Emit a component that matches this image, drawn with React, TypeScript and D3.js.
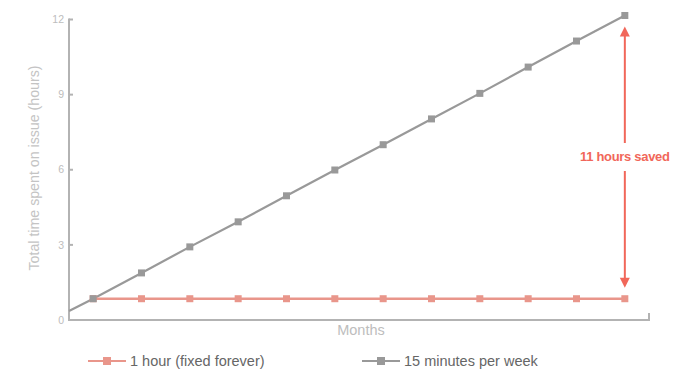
import React from "react";
import * as d3 from "d3";

// Months along the x axis
const months = [1, 2, 3, 4, 5, 6, 7, 8, 9, 10, 11, 12];
// Cumulative hours: one-off fix vs. recurring 15 minutes per week
const fixedHours = [0.85, 0.85, 0.85, 0.85, 0.85, 0.85, 0.85, 0.85, 0.85, 0.85, 0.85, 0.85];
const weeklyHours = [0.85, 1.88, 2.92, 3.92, 4.96, 5.99, 7.0, 8.03, 9.05, 10.1, 11.14, 12.16];
// Value of the weekly line where it meets the y axis
const weeklyStart = 0.36;
const yTicks = [0, 3, 6, 9, 12];
const seriesNames = ["1 hour (fixed forever)", "15 minutes per week"];
const savedLabel = "11 hours saved";

const W = 690;
const H = 380;
const FONT = "'Liberation Sans', Arial, sans-serif";
const AXIS = "#b3b3b3";
const RED = "#e9968b";
const GRAY = "#999999";
const ACCENT = "#f1675a";

export default function App() {
  const x = d3.scalePoint<number>().domain(months).range([69, 649]).padding(0.5);
  const y = d3.scaleLinear().domain([0, 12]).range([320, 19.5]);
  const [x0, x1] = x.range();

  const redPts: [number, number][] = months.map((m, i) => [x(m)!, y(fixedHours[i])]);
  const grayPts: [number, number][] = [
    [x0, y(weeklyStart)],
    ...months.map((m, i) => [x(m)!, y(weeklyHours[i])] as [number, number]),
  ];
  const line = d3.line();

  const last = months.length - 1;
  const ax = x(months[last])!;
  const aTop = y(weeklyHours[last]) + 11;
  const aBot = y(fixedHours[last]) - 11;
  const labelY = 156;

  const sq = 7;

  return (
    <svg width={W} height={H} style={{ position: "absolute", left: 0, top: 0 }} fontFamily={FONT}>
      <rect width={W} height={H} fill="#ffffff" />

      {/* y axis */}
      <line x1={x0} x2={x0} y1={y(12) - 1} y2={y(0) + 1} stroke={AXIS} strokeWidth={2} />
      {yTicks.map((t) => (
        <g key={t}>
          <line x1={x0} x2={x0 + 4} y1={y(t)} y2={y(t)} stroke={AXIS} strokeWidth={2} />
          <text x={x0 - 5} y={y(t)} dy="0.35em" textAnchor="end" fontSize={10.5} fill="#bdbdbd">
            {t}
          </text>
        </g>
      ))}
      <text
        transform={`translate(39,${168}) rotate(-90)`}
        textAnchor="middle"
        fontSize={14.2}
        fill="#c4c4c4"
      >
        Total time spent on issue (hours)
      </text>

      {/* x axis */}
      <line x1={x0 - 1} x2={x1 + 1} y1={y(0)} y2={y(0)} stroke={AXIS} strokeWidth={2} />
      <line x1={x1} x2={x1} y1={y(0)} y2={y(0) - 7} stroke={AXIS} strokeWidth={2} />
      <text x={(x0 + x1) / 2 + 2} y={335} textAnchor="middle" fontSize={14.5} fill="#bdbdbd">
        Months
      </text>

      {/* series */}
      <path d={line(grayPts)!} fill="none" stroke={GRAY} strokeWidth={2.2} />
      <path d={line(redPts)!} fill="none" stroke={RED} strokeWidth={2.5} />
      {redPts.map(([px, py], i) => (
        <rect key={"r" + i} x={px - sq / 2} y={py - sq / 2} width={sq} height={sq} fill={RED} />
      ))}
      {grayPts.slice(1).map(([px, py], i) => (
        <rect key={"g" + i} x={px - sq / 2} y={py - sq / 2} width={sq} height={sq} fill={GRAY} />
      ))}

      {/* savings arrow */}
      <line x1={ax} x2={ax} y1={aTop + 8} y2={labelY - 13} stroke={ACCENT} strokeWidth={2} />
      <line x1={ax} x2={ax} y1={labelY + 15} y2={aBot - 8} stroke={ACCENT} strokeWidth={2} />
      <path d={`M${ax},${aTop} L${ax - 5},${aTop + 10} L${ax + 5},${aTop + 10} Z`} fill={ACCENT} />
      <path d={`M${ax},${aBot} L${ax - 5},${aBot - 10} L${ax + 5},${aBot - 10} Z`} fill={ACCENT} />
      <text x={ax} y={labelY} dy="0.35em" textAnchor="middle" fontSize={13} fontWeight={700} fill={ACCENT} letterSpacing={-0.3}>
        {savedLabel}
      </text>

      {/* legend */}
      <g transform="translate(88,361)">
        <line x1={0} x2={38} y1={0} y2={0} stroke={RED} strokeWidth={2} />
        <rect x={19 - 4} y={-4} width={8} height={8} fill={RED} />
        <text x={42} y={0} dy="0.35em" fontSize={14.5} fill="#666666">
          {seriesNames[0]}
        </text>
      </g>
      <g transform="translate(362,361)">
        <line x1={0} x2={38} y1={0} y2={0} stroke={GRAY} strokeWidth={2} />
        <rect x={19 - 4} y={-4} width={8} height={8} fill={GRAY} />
        <text x={42} y={0} dy="0.35em" fontSize={14.5} fill="#666666">
          {seriesNames[1]}
        </text>
      </g>
    </svg>
  );
}
